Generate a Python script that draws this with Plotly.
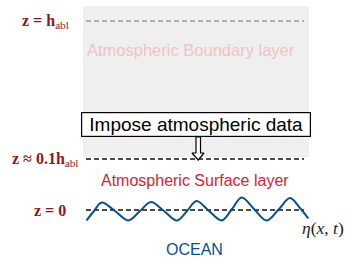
import plotly.graph_objects as go

# ---- schematic data (diagram coordinates: x right, y = pixel row downward) ----
level_names = ["h_abl", "0.1h_abl", "0"]
level_labels = ["<b>z = h</b><sub>abl</sub>", "<b>z ≈ 0.1h</b><sub>abl</sub>", "<b>z = 0</b>"]
level_y = [21, 159, 210]
level_label_right = [71, 80, 68]
level_colors = ["#9a9a9a", "#111111", "#111111"]
line_x = [86, 304]

abl_box_x = [83, 309]
abl_box_y = [6, 157]

wave_x = [86.5, 94, 101.7, 115, 128.3, 140, 151, 164, 176.7, 187, 196.5, 209, 221.7, 232, 241.7, 254, 266.7, 279, 290, 300, 308.3]
wave_y = [220.5, 211, 202.5, 211, 220.5, 211, 202, 211, 220.5, 211, 201, 211, 220.5, 209, 197.5, 209, 220.5, 209, 198, 208, 218.5]

arrow_x = [196, 200.5, 200.5, 204, 198.2, 192, 196, 196]
arrow_y = [137, 137, 153, 153, 160, 153, 153, 137]

fig = go.Figure()

# gray boundary-layer background
fig.add_shape(type="rect", x0=abl_box_x[0], x1=abl_box_x[1], y0=abl_box_y[0], y1=abl_box_y[1],
              fillcolor="#efefef", line_width=0, layer="below")

# level dashed lines
for y, c in zip(level_y, level_colors):
    fig.add_trace(go.Scatter(x=line_x, y=[y, y], mode="lines",
                             line=dict(color=c, width=1.3, dash="5px,3px"),
                             hoverinfo="skip", showlegend=False))

# level labels
for lab, y, xr in zip(level_labels, level_y, level_label_right):
    fig.add_annotation(x=xr, y=y, text=lab, showarrow=False, xanchor="right", yanchor="middle",
                       font=dict(family="Liberation Serif", size=16, color="#8b1a1a"))

# ocean surface wave
fig.add_trace(go.Scatter(x=wave_x, y=wave_y, mode="lines", line_shape="spline",
                         line=dict(color="#0b4f93", width=2),
                         hoverinfo="skip", showlegend=False))

# hollow arrow
fig.add_trace(go.Scatter(x=arrow_x, y=arrow_y, mode="lines", fill="toself", fillcolor="white",
                         line=dict(color="black", width=1.2),
                         hoverinfo="skip", showlegend=False))

# texts
fig.add_annotation(x=191, y=50, text="Atmospheric Boundary layer", showarrow=False,
                   font=dict(family="Liberation Sans", size=16.5, color="#f0c2c6"))
fig.add_annotation(x=196, y=124, text="Impose atmospheric data", showarrow=False,
                   font=dict(family="Liberation Sans", size=19, color="black"),
                   width=228, height=23, align="center",
                   bgcolor="white", bordercolor="black", borderwidth=1.2, borderpad=0)
fig.add_annotation(x=195, y=180, text="Atmospheric Surface layer", showarrow=False,
                   font=dict(family="Liberation Sans", size=16, color="#d42433"))
fig.add_annotation(x=194, y=249.5, text="OCEAN", showarrow=False,
                   font=dict(family="Liberation Sans", size=16, color="#0b4f93"))
fig.add_annotation(x=323, y=228, text="<i>η</i>(<i>x</i>, <i>t</i>)", showarrow=False,
                   font=dict(family="Liberation Serif", size=17.5, color="#222222"))

fig.update_xaxes(range=[0, 345], visible=False, fixedrange=True)
fig.update_yaxes(range=[257, 0], visible=False, fixedrange=True)
fig.update_layout(width=345, height=257, margin=dict(l=0, r=0, t=0, b=0),
                  plot_bgcolor="white", paper_bgcolor="white", showlegend=False)

fig.write_html("out.html", config={"displayModeBar": False},
               post_script="document.body.style.margin='0';document.body.style.overflow='hidden';")
